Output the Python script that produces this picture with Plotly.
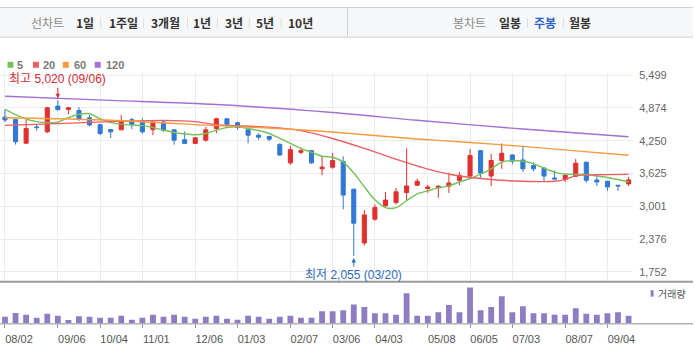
import pandas as pd
import plotly.graph_objects as go

W, H = 695, 353

# ---------------- data (weekly candles) ----------------
dates = pd.date_range("2015-08-02", periods=60, freq="7D")

opens = [4702, 4657, 4205, 4514, 4420, 4910, 4846, 4827, 4689, 4557,
         4463, 4458, 4652, 4627, 4463, 4608, 4458, 4269, 4200, 4262,
         4482, 4670, 4595, 4458, 4356, 4332, 4181, 3829, 4030, 4062,
         3716, 3748, 3855, 3328, 2304, 2756, 3013, 3076, 3264, 3403,
         3340, 3358, 3384, 3497, 3578, 4062, 3578, 3874, 3979, 3885,
         3780, 3729, 3541, 3516, 3573, 3842, 3504, 3478, 3403, 3429]
highs = [4846, 4670, 4657, 4563, 4896, 5020, 4896, 4891, 4740, 4576,
         4476, 4740, 4689, 4676, 4638, 4627, 4469, 4426, 4313, 4514,
         4689, 4680, 4610, 4470, 4394, 4345, 4200, 4156, 4124, 4074,
         3955, 4017, 3955, 3340, 2932, 3038, 3277, 3352, 4106, 3528,
         3415, 3403, 3641, 3654, 4092, 4070, 3998, 4200, 3990, 4156,
         3842, 3748, 3686, 3610, 3904, 3850, 3610, 3485, 3403, 3560]
lows = [4608, 4175, 4187, 4439, 4394, 4830, 4751, 4627, 4520, 4356,
        4300, 4450, 4469, 4388, 4356, 4420, 4175, 4187, 4187, 4232,
        4394, 4501, 4458, 4205, 4269, 4243, 3961, 3791, 3993, 3810,
        3592, 3716, 2944, 2055, 2255, 2725, 2995, 3038, 3121, 3390,
        3258, 3164, 3258, 3403, 3546, 3546, 3384, 3716, 3799, 3654,
        3667, 3465, 3516, 3465, 3560, 3452, 3390, 3296, 3296, 3390]
closes = [4646, 4232, 4482, 4501, 4878, 4840, 4878, 4657, 4552, 4388,
          4420, 4627, 4563, 4420, 4608, 4450, 4262, 4200, 4307, 4458,
          4670, 4563, 4501, 4356, 4318, 4281, 3979, 4081, 4062, 3829,
          3748, 3874, 3215, 2680, 2838, 2981, 3121, 3277, 3390, 3478,
          3371, 3384, 3446, 3591, 3968, 3635, 3874, 4011, 3861, 3716,
          3716, 3578, 3522, 3591, 3823, 3497, 3465, 3371, 3390, 3504]
volumes = [200, 320, 260, 170, 290, 230, 100, 220, 200, 170,
           170, 230, 110, 170, 260, 200, 260, 200, 140, 200,
           230, 140, 110, 230, 200, 140, 200, 230, 170, 170,
           370, 370, 400, 580, 500, 310, 310, 260, 920, 230,
           230, 340, 560, 340, 1100, 400, 500, 830, 340, 520,
           310, 310, 260, 260, 460, 290, 260, 310, 340, 230]

ma5 = [4846, 4746, 4661, 4614, 4595, 4605, 4689, 4755, 4765, 4670,
       4595, 4567, 4548, 4539, 4501, 4454, 4407, 4379, 4364, 4388,
       4454, 4501, 4514, 4482, 4445, 4388, 4294, 4200, 4106, 4030,
       3955, 3936, 3842, 3635, 3371, 3126, 2976, 2976, 3108, 3239,
       3296, 3352, 3390, 3465, 3531, 3616, 3716, 3842, 3874, 3861,
       3814, 3729, 3654, 3616, 3610, 3607, 3578, 3550, 3512, 3465]
ma20_idx = [0, 5, 10, 15, 18, 20, 25, 28, 31, 34, 37, 40, 43, 46, 49, 52, 53, 54, 56, 59]
ma20 = [4544, 4576, 4614, 4638, 4614, 4557, 4510, 4444, 4294, 4105,
        3898, 3710, 3578, 3512, 3478, 3478, 3510, 3585, 3603, 3610]
ma60_idx = [0, 10, 20, 25, 31, 39, 44, 49, 54, 59]
ma60 = [4689, 4642, 4538, 4492, 4416, 4284, 4218, 4143, 4058, 3974]
ma120_idx = [0, 10, 20, 31, 39, 49, 59]
ma120 = [5098, 5019, 4940, 4787, 4640, 4473, 4326]

y_ticks = [1752, 2376, 3001, 3625, 4250, 4874, 5499]
x_tick_idx = [0, 5, 9, 13, 18, 22, 27, 31, 35, 40, 44, 48, 53, 57]
x_tick_labels = ["08/02", "09/06", "10/04", "11/01", "12/06", "01/03", "02/07",
                 "03/06", "04/03", "05/08", "06/05", "07/03", "08/07", "09/04"]
hi_idx, lo_idx = 5, 33

top_left_items = ["1일", "1주일", "3개월", "1년", "3년", "5년", "10년"]
top_right_items = ["일봉", "주봉", "월봉"]
ma_names = ["5", "20", "60", "120"]

# ---------------- style ----------------
RED = "#e0302d"
BLUE = "#3278d6"
VOLC = "#8f7cc2"
MA_COLORS = ["#74c25a", "#eb5f62", "#f59b3d", "#a370d3"]
GRID = "#ececec"
NUMFONT = "Liberation Sans, Noto Sans CJK KR, sans-serif"
KRFONT = "Noto Sans CJK KR, sans-serif"


def px(x):
    return x / W


def py(y):
    return 1 - y / H


PRICE_TOP, PRICE_BOT = 70, 281
VOL_TOP, VOL_BOT = 284, 323
PLOT_RIGHT = 635
per_px = (5499 - 1752) / (271 - 72)
y_range = [1752 - (PRICE_BOT - 271) * per_px, 5499 + (72 - PRICE_TOP) * per_px]
week = pd.Timedelta(days=7)
pxw = 10.6
x0 = 5
x_range = [(dates[0] - week * (x0 / pxw)).strftime("%Y-%m-%d %H:%M:%S"),
           (dates[0] + week * ((PLOT_RIGHT - x0) / pxw)).strftime("%Y-%m-%d %H:%M:%S")]
tick_dates = [dates[i] for i in x_tick_idx]

fig = go.Figure()

fig.add_trace(go.Candlestick(
    x=dates, open=opens, high=highs, low=lows, close=closes,
    increasing=dict(line=dict(color=RED, width=1), fillcolor=RED),
    decreasing=dict(line=dict(color=BLUE, width=1), fillcolor=BLUE),
    whiskerwidth=0, showlegend=False, xaxis="x", yaxis="y", hoverinfo="skip"))

for idx, vals, col in [(list(range(60)), ma5, MA_COLORS[0]),
                       (ma20_idx, ma20, MA_COLORS[1]),
                       (ma60_idx, ma60, MA_COLORS[2]),
                       (ma120_idx, ma120, MA_COLORS[3])]:
    fig.add_trace(go.Scatter(
        x=[dates[i] for i in idx], y=vals, mode="lines",
        line=dict(color=col, width=1.4, shape="spline", smoothing=0.8),
        showlegend=False, xaxis="x", yaxis="y", hoverinfo="skip"))

fig.add_trace(go.Bar(
    x=dates, y=volumes, marker=dict(color=VOLC, line=dict(width=0)),
    width=0.55 * 7 * 86400000, showlegend=False, xaxis="x2", yaxis="y2",
    hoverinfo="skip"))

annotations = []
shapes = []

# max / min labels
annotations.append(dict(
    x=dates[hi_idx], y=highs[hi_idx], xref="x", yref="y",
    text=f"최고 {highs[hi_idx]:,} ({dates[hi_idx].strftime('%m/%d')})",
    showarrow=True, arrowhead=2, arrowsize=0.9, arrowwidth=1, arrowcolor="#d42b36",
    ax=0, ay=-21, standoff=2, font=dict(family=NUMFONT, size=12, color="#d42b36")))
annotations.append(dict(
    x=dates[lo_idx], y=lows[lo_idx], xref="x", yref="y",
    text=f"최저 {lows[lo_idx]:,} ({dates[lo_idx].strftime('%m/%d')})",
    showarrow=True, arrowhead=2, arrowsize=0.9, arrowwidth=1, arrowcolor="#2d6bb8",
    ax=0, ay=19, standoff=2, font=dict(family=NUMFONT, size=12, color="#2d6bb8")))

# MA legend
leg_sq_x = [7.5, 33, 63, 95]
leg_tx_x = [15, 41, 72.5, 104]
for sx, tx, name, col in zip(leg_sq_x, leg_tx_x, ma_names, MA_COLORS):
    shapes.append(dict(type="rect", xref="paper", yref="paper",
                       x0=px(sx), x1=px(sx + 6), y0=py(64.5), y1=py(58.5),
                       fillcolor=col, line=dict(width=0)))
    annotations.append(dict(x=px(tx), y=py(61.5), xref="paper", yref="paper",
                            xanchor="left", yanchor="middle", showarrow=False,
                            text=f"<b>{name}</b>",
                            font=dict(family=NUMFONT, size=11, color="#7a7a7a")))

# volume legend
shapes.append(dict(type="rect", xref="paper", yref="paper",
                   x0=px(652.5), x1=px(655.5), y0=py(296), y1=py(289.5),
                   fillcolor=VOLC, line=dict(width=0)))
annotations.append(dict(x=px(658), y=py(293), xref="paper", yref="paper",
                        xanchor="left", yanchor="middle", showarrow=False,
                        text="거래량", font=dict(family=KRFONT, size=10, color="#555")))

# top bar
shapes.append(dict(type="rect", xref="paper", yref="paper",
                   x0=0, x1=1, y0=py(33.5), y1=py(3.5),
                   fillcolor="#f6f7f8", line=dict(width=0), layer="below"))
for yy in (3.5, 33.5):
    shapes.append(dict(type="line", xref="paper", yref="paper",
                       x0=0, x1=1, y0=py(yy), y1=py(yy),
                       line=dict(color="#cdcfd2", width=1)))
shapes.append(dict(type="line", xref="paper", yref="paper",
                   x0=px(348.5), x1=px(348.5), y0=py(33.5), y1=py(3.5),
                   line=dict(color="#cdcfd2", width=1)))


def bar_text(cx, text, color):
    annotations.append(dict(x=px(cx), y=py(19), xref="paper", yref="paper",
                            xanchor="center", yanchor="middle",
                            showarrow=False, text=text,
                            font=dict(family=KRFONT, size=12, color=color)))


bar_text(48, "선차트", "#8a8a8a")
left_cx = [85.5, 123.5, 166, 202.5, 234.5, 266, 301.5]
for cx, t in zip(left_cx, top_left_items):
    bar_text(cx, f"<b>{t}</b>", "#333")
for sx in [101, 144, 188, 218, 250, 282]:
    shapes.append(dict(type="line", xref="paper", yref="paper",
                       x0=px(sx), x1=px(sx), y0=py(24), y1=py(14),
                       line=dict(color="#dddddd", width=1)))

bar_text(471, "봉차트", "#8a8a8a")
right_cx = [511, 546.5, 582]
for cx, t in zip(right_cx, top_right_items):
    bar_text(cx, f"<b>{t}</b>", "#2b62c9" if t == "주봉" else "#333")
for sx in [529, 565]:
    shapes.append(dict(type="line", xref="paper", yref="paper",
                       x0=px(sx), x1=px(sx), y0=py(24), y1=py(14),
                       line=dict(color="#dddddd", width=1)))

# pane separator lines
shapes.append(dict(type="line", xref="paper", yref="paper",
                   x0=0, x1=1, y0=py(281), y1=py(281),
                   line=dict(color="#9a9a9a", width=2)))
shapes.append(dict(type="line", xref="paper", yref="paper",
                   x0=0, x1=1, y0=py(323.5), y1=py(323.5),
                   line=dict(color="#8c8c8c", width=1)))

fig.update_layout(
    width=W, height=H, autosize=False,
    margin=dict(l=0, r=0, t=0, b=0, pad=0),
    paper_bgcolor="white", plot_bgcolor="white",
    boxgap=0.45,
    xaxis=dict(domain=[0, px(PLOT_RIGHT)], anchor="y", type="date", range=x_range,
               tickmode="array", tickvals=tick_dates, showticklabels=False,
               showgrid=True, gridcolor=GRID, gridwidth=1, zeroline=False,
               showline=False, ticks="", rangeslider=dict(visible=False),
               fixedrange=True),
    yaxis=dict(domain=[py(PRICE_BOT), py(PRICE_TOP)], anchor="x", side="right",
               range=y_range, tickmode="array", tickvals=y_ticks,
               ticktext=[f"{v:,}" for v in y_ticks], showgrid=True,
               gridcolor=GRID, gridwidth=1, zeroline=False, showline=False,
               ticks="", ticklabelstandoff=5,
               tickfont=dict(family=NUMFONT, size=11, color="#666")),
    xaxis2=dict(domain=[0, px(PLOT_RIGHT)], anchor="y2", matches="x", type="date",
                tickmode="array", tickvals=tick_dates, ticktext=x_tick_labels,
                showgrid=False, zeroline=False, showline=False,
                ticks="outside", ticklen=4, tickcolor="#999", tickwidth=1,
                ticklabelshift=14, ticklabelstandoff=1,
                tickfont=dict(family=NUMFONT, size=11, color="#555")),
    yaxis2=dict(domain=[py(VOL_BOT), py(VOL_TOP)], anchor="x2", range=[0, 1180],
                showgrid=False, showticklabels=False, zeroline=False,
                showline=False, ticks=""),
    annotations=annotations, shapes=shapes, showlegend=False,
)

fig.write_html("out.html")
